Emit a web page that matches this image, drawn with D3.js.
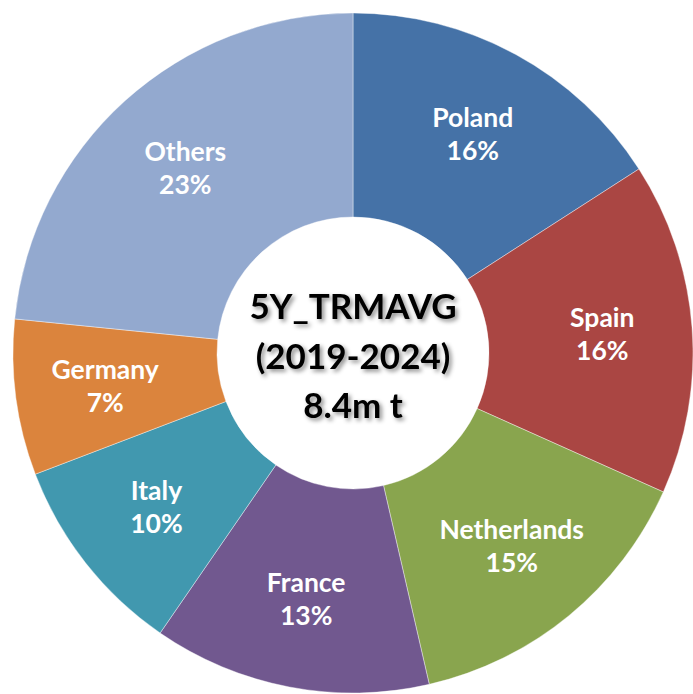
<!DOCTYPE html>
<html><head><meta charset="utf-8">
<script src="https://cdn.jsdelivr.net/npm/d3@7"></script>
<style>html,body{margin:0;padding:0;background:#fff;}</style>
</head><body>
<svg id="chart" width="693" height="694"></svg>
<script>
const categories = ["Poland","Spain","Netherlands","France","Italy","Germany","Others"];
const values = [15.9, 15.8, 14.7, 13.2, 9.6, 7.4, 23.4];
const colors = ["#4572A7","#AA4643","#89A54E","#71588F","#4198AF","#DB843D","#93A9CF"];
const centerLines = ["5Y_TRMAVG","(2019-2024)","8.4m t"];

const svg = d3.select("#chart");
const cx = 353, cy = 353, rOuter = 340, rInner = 136, rLabel = 250;
const FONT = "Lato, 'Open Sans', sans-serif";

const defs = svg.append("defs");
const f = defs.append("filter").attr("id","shadow").attr("x","-20%").attr("y","-20%").attr("width","140%").attr("height","140%");
f.append("feDropShadow").attr("dx",2.5).attr("dy",2.5).attr("stdDeviation",2).attr("flood-color","#000").attr("flood-opacity",0.45);

const total = d3.sum(values);
const data = categories.map((c,i)=>({name:c, value:values[i], color:colors[i]}));
const pie = d3.pie().value(d=>d.value).sort(null);
const arcs = pie(data);
const arc = d3.arc().innerRadius(rInner).outerRadius(rOuter);
const labelArc = d3.arc().innerRadius(rLabel).outerRadius(rLabel);

const g = svg.append("g").attr("transform",`translate(${cx},${cy})`);
g.selectAll("path.slice").data(arcs).join("path")
  .attr("class","slice")
  .attr("d",arc)
  .attr("fill",d=>d.data.color)
  .attr("stroke","#ffffff").attr("stroke-opacity",0.5).attr("stroke-width",0.8);

const lbl = g.selectAll("text.lbl").data(arcs).join("text")
  .attr("class","lbl")
  .attr("transform",d=>{const [x,y]=labelArc.centroid(d); return `translate(${x},${y})`;})
  .attr("text-anchor","middle")
  .attr("font-family",FONT).attr("font-weight","bold").attr("font-size",26.5)
  .attr("fill","#ffffff");
lbl.append("tspan").attr("x",0).attr("y",-7).text(d=>d.data.name);
lbl.append("tspan").attr("x",0).attr("y",26).text(d=>Math.round(d.data.value/total*100)+"%");

const ct = g.append("text").attr("text-anchor","middle")
  .attr("font-family",FONT).attr("font-weight","bold").attr("font-size",35)
  .attr("fill","#000").attr("filter","url(#shadow)");
const lineY = [-34, 16, 65];
centerLines.forEach((t,i)=>{
  ct.append("tspan").attr("x",0).attr("y",lineY[i]).text(t);
});
</script>
</body></html>
